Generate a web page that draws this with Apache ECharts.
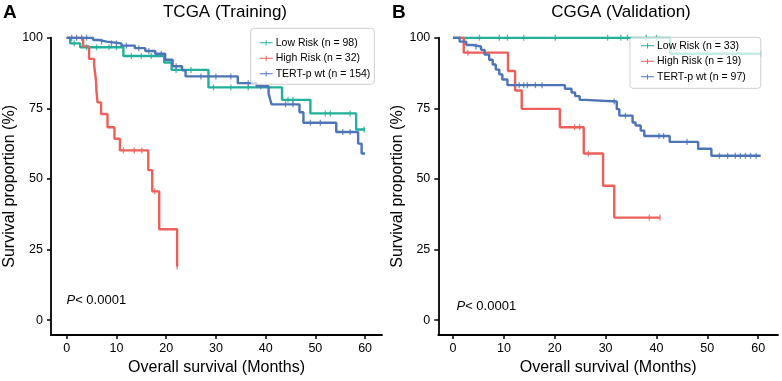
<!DOCTYPE html>
<html>
<head>
<meta charset="utf-8">
<script src="https://cdn.jsdelivr.net/npm/echarts@6/dist/echarts.min.js"></script>
<style>
  html, body { margin: 0; padding: 0; background: #fff; }
  #main { width: 782px; height: 381px; }
</style>
</head>
<body>
<div id="main"></div>
<script>
// ---- data (months, survival %) ----
var xTicks = [0, 10, 20, 30, 40, 50, 60];
var yTicks = [0, 25, 50, 75, 100];

// TCGA (Training)
var tcgaLowT = [0, 0.7, 2.7, 11.4, 19.6, 21.1, 28.5, 43.3, 49.0, 58.2, 60.0];
var tcgaLowS = [100, 98.0, 96.6, 93.5, 91.2, 88.6, 82.4, 78.0, 73.2, 67.5, 67.5];
var tcgaLowCens = [1.5, 4, 6, 8.5, 10, 13, 15, 17, 22, 25, 29.5, 33, 36.5, 44.5, 45.5, 52, 53, 57, 59.8];

var tcgaHighT = [0, 3.3, 4.5, 5.5, 5.7, 5.9, 6.0, 6.2, 6.9, 8.2, 9.6, 10.7, 16.4, 17.2, 18.6, 22.2];
var tcgaHighS = [100, 96.9, 92.5, 90.6, 87.5, 84.4, 80.6, 77.1, 73.0, 68.3, 64.2, 60.1, 53.1, 45.6, 32.2, 19.0];
var tcgaHighCens = [11.4, 13.6, 15.1, 17.7, 22.2];

var tcgaWtT = [0, 5.3, 6.5, 8.0, 11.0, 13.7, 15.8, 17.8, 19.8, 21.3, 23.2, 23.9, 34.4, 38.2, 40.6, 40.9, 41.2, 46.8, 47.6, 54.2, 58.6, 59.3, 60.0];
var tcgaWtS = [100, 99.2, 98.6, 98.0, 97.2, 96.3, 95.3, 94.3, 92.2, 89.9, 88.5, 86.3, 83.9, 82.8, 80.2, 78.2, 76.4, 73.6, 69.9, 66.6, 62.5, 59.0, 59.0];
var tcgaWtCens = [1, 2, 3, 4, 7, 9, 10, 12, 14.5, 16.5, 19, 22, 27, 30, 33, 36.5, 39, 44, 45.5, 49, 51, 55.5, 57];

// CGGA (Validation)
var cggaLowT = [0, 42.7, 60.5];
var cggaLowS = [100, 94.3, 94.3];
var cggaLowCens = [5.2, 9.1, 10.7, 13.9, 20.1, 30.4, 33.0, 34.3, 38, 40, 50, 55, 60.5];

var cggaHighT = [0, 2.1, 10.8, 12.2, 13.5, 21.0, 25.7, 29.5, 31.7, 40.7];
var cggaHighS = [100, 94.7, 88.2, 81.3, 74.8, 68.3, 59.0, 47.6, 36.3, 36.3];
var cggaHighCens = [2.9, 23.9, 24.9, 26.6, 38.6, 40.7];

var cggaWtT = [0, 1.3, 2.6, 3.9, 5.5, 6.2, 7.1, 7.8, 8.4, 9.1, 9.7, 10.7, 22.0, 23.3, 24.0, 24.9, 25.9, 32.2, 32.7, 35.3, 35.9, 36.9, 37.6, 42.6, 48.2, 50.8, 60.5];
var cggaWtS = [100, 98.6, 97.4, 96.9, 95.7, 94.0, 92.2, 90.5, 88.7, 87.0, 85.2, 83.2, 81.9, 80.6, 79.3, 78.0, 77.4, 74.7, 72.4, 70.0, 68.9, 67.1, 65.2, 63.1, 60.7, 58.2, 58.2];
var cggaWtCens = [4.5, 13.0, 13.9, 14.6, 16.2, 17.5, 31.7, 33.9, 40.5, 41.4, 46.0, 52.4, 54, 55.5, 56.5, 57.5, 58.5, 59.6];

var cTeal = "#22B09B";
var cRed = "#EC5F5A";
var cBlue = "#4D74B6";
var fontFam = "'Liberation Sans', Arial, sans-serif";

function pairs(t, s) {
  var out = [];
  for (var i = 0; i < t.length; i++) out.push([t[i], s[i]]);
  return out;
}
// survival value of the step curve at time x
function survAt(t, s, x) {
  var v = s[0];
  for (var i = 0; i < t.length; i++) {
    if (t[i] <= x) v = s[i];
  }
  return v;
}
function censPts(t, s, c) {
  return c.map(function (x) { return [x, survAt(t, s, x)]; });
}

function kmLine(name, t, s, color, idx) {
  return {
    name: name,
    type: "line",
    step: "end",
    showSymbol: false,
    xAxisIndex: idx,
    yAxisIndex: idx,
    data: pairs(t, s),
    lineStyle: { color: color, width: 2.4 },
    itemStyle: { color: color },
    z: 3,
  };
}
function kmCens(name, t, s, c, color, idx) {
  return {
    name: name,
    type: "scatter",
    xAxisIndex: idx,
    yAxisIndex: idx,
    symbol: "rect",
    symbolSize: [1.3, 6],
    data: censPts(t, s, c),
    itemStyle: { color: color },
    z: 4,
  };
}

function xAxisOf(idx, min, max) {
  return {
    type: "value",
    gridIndex: idx,
    min: min,
    max: max,
    name: "Overall survival (Months)",
    nameLocation: "middle",
    nameGap: 21,
    nameTextStyle: { fontSize: 16, color: "#000", fontFamily: fontFam },
    axisLine: { show: true, onZero: false, lineStyle: { color: "#000", width: 1.8 } },
    axisTick: { show: true, length: 4, customValues: xTicks, lineStyle: { color: "#000", width: 1.5 } },
    axisLabel: { customValues: xTicks, margin: 7, fontSize: 12.5, color: "#000", fontFamily: fontFam },
    splitLine: { show: false },
  };
}
function yAxisOf(idx) {
  return {
    type: "value",
    gridIndex: idx,
    min: -5.3,
    max: 100,
    name: "Survival proportion (%)",
    nameLocation: "middle",
    nameGap: 33,
    nameTextStyle: { fontSize: 16, color: "#000", fontFamily: fontFam },
    axisLine: { show: true, onZero: false, lineStyle: { color: "#000", width: 1.8 } },
    axisTick: { show: true, length: 4, customValues: yTicks, lineStyle: { color: "#000", width: 1.5 } },
    axisLabel: { customValues: yTicks, margin: 8, fontSize: 12.5, color: "#000", fontFamily: fontFam },
    splitLine: { show: false },
  };
}

var legIcon = "path://M0,3.2h20v1.6h-20z M9.3,0h1.4v8h-1.4z";
function legendOf(names, left, top, pad) {
  return {
    orient: "vertical",
    left: left,
    top: top,
    padding: pad,
    itemGap: 4.5,
    itemWidth: 13,
    itemHeight: 6,
    icon: legIcon,
    data: names,
    borderColor: "#cfcfcf",
    borderWidth: 1,
    borderRadius: 3,
    backgroundColor: "rgba(255,255,255,0.75)",
    textStyle: { fontSize: 10.5, color: "#000", fontFamily: fontFam, padding: [0, 0, 0, -2] },
    z: 10,
  };
}

var myChart = echarts.init(document.getElementById("main"), null, { renderer: "canvas" });
var option = {
  animation: false,
  backgroundColor: "#fff",
  textStyle: { fontFamily: fontFam },
  grid: [
    { left: 51, right: 400, top: 37.7, bottom: 42.3 },
    { left: 438.3, right: 4, top: 37.7, bottom: 42.3 },
  ],
  xAxis: [xAxisOf(0, -3.16, 63.4), xAxisOf(1, -2.9, 63.9)],
  yAxis: [yAxisOf(0), yAxisOf(1)],
  legend: [
    legendOf(["Low Risk (n = 98)", "High Risk (n = 32)", "TERT-p wt (n = 154)"], 250.7, 28.3, [9, 4, 5, 9]),
    legendOf(["Low Risk (n = 33)", "High Risk (n = 19)", "TERT-p wt (n = 97)"], 630, 37.3, [3, 15, 6, 11]),
  ],
  graphic: [
    { type: "text", left: 3, top: 3, style: { text: "A", fontSize: 19, fontWeight: "bold", fill: "#000", fontFamily: fontFam } },
    { type: "text", left: 392, top: 3, style: { text: "B", fontSize: 19, fontWeight: "bold", fill: "#000", fontFamily: fontFam } },
    { type: "text", x: 225, y: 12.5, style: { text: "TCGA (Training)", fontSize: 17, fill: "#000", align: "center", verticalAlign: "middle", fontFamily: fontFam } },
    { type: "text", x: 621, y: 12.5, style: { text: "CGGA (Validation)", fontSize: 17, fill: "#000", align: "center", verticalAlign: "middle", fontFamily: fontFam } },
    { type: "text", x: 66.5, y: 300.5, style: { text: "{i|P}< 0.0001", fontSize: 13, fill: "#000", verticalAlign: "middle", fontFamily: fontFam, rich: { i: { fontStyle: "italic", fontSize: 13, fontFamily: fontFam } } } },
    { type: "text", x: 456.5, y: 306.5, style: { text: "{i|P}< 0.0001", fontSize: 13, fill: "#000", verticalAlign: "middle", fontFamily: fontFam, rich: { i: { fontStyle: "italic", fontSize: 13, fontFamily: fontFam } } } },
  ],
  series: [
    kmLine("Low Risk (n = 98)", tcgaLowT, tcgaLowS, cTeal, 0),
    kmLine("High Risk (n = 32)", tcgaHighT, tcgaHighS, cRed, 0),
    kmLine("TERT-p wt (n = 154)", tcgaWtT, tcgaWtS, cBlue, 0),
    kmCens("cens-low-tcga", tcgaLowT, tcgaLowS, tcgaLowCens, cTeal, 0),
    kmCens("cens-high-tcga", tcgaHighT, tcgaHighS, tcgaHighCens, cRed, 0),
    kmCens("cens-wt-tcga", tcgaWtT, tcgaWtS, tcgaWtCens, cBlue, 0),
    kmLine("Low Risk (n = 33)", cggaLowT, cggaLowS, cTeal, 1),
    kmLine("High Risk (n = 19)", cggaHighT, cggaHighS, cRed, 1),
    kmLine("TERT-p wt (n = 97)", cggaWtT, cggaWtS, cBlue, 1),
    kmCens("cens-low-cgga", cggaLowT, cggaLowS, cggaLowCens, cTeal, 1),
    kmCens("cens-high-cgga", cggaHighT, cggaHighS, cggaHighCens, cRed, 1),
    kmCens("cens-wt-cgga", cggaWtT, cggaWtS, cggaWtCens, cBlue, 1),
  ],
};

option && myChart.setOption(option);
window.addEventListener("resize", function () {
  myChart.resize();
});
</script>
</body>
</html>
